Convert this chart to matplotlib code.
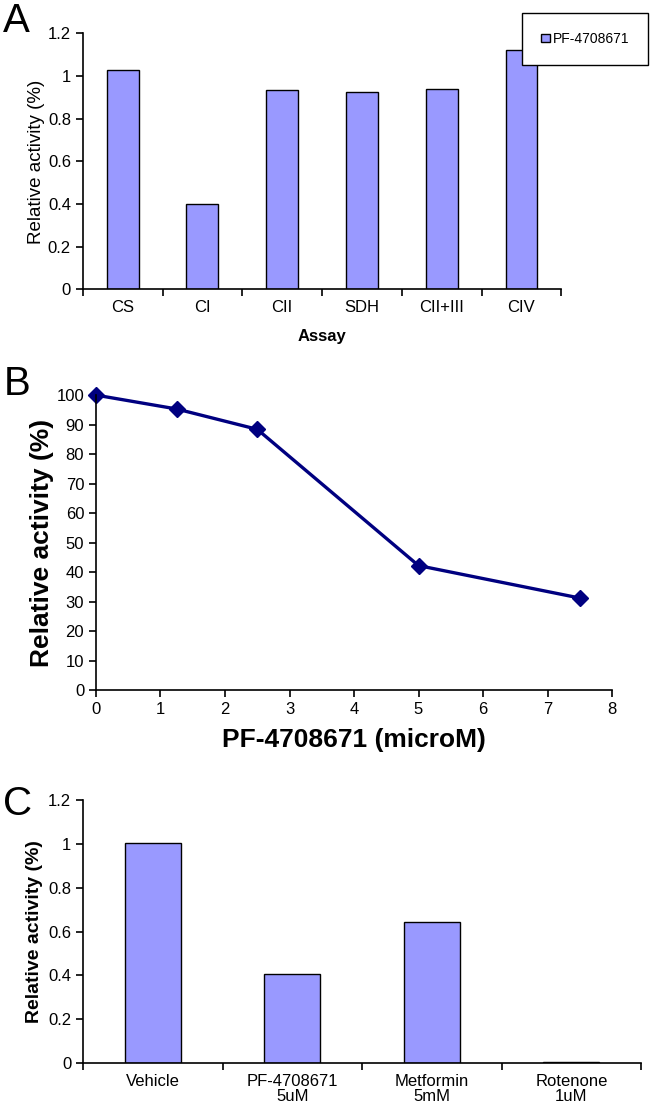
import matplotlib
matplotlib.use('Agg')
import matplotlib.pyplot as plt
from matplotlib import font_manager

# data
assays = ['CS', 'CI', 'CII', 'SDH', 'CII+III', 'CIV']
assay_vals = [1.03, 0.40, 0.935, 0.925, 0.94, 1.12]

dose = [0, 1.25, 2.5, 5, 7.5]
dose_act = [100, 95.3, 88.4, 42.2, 31.2]

treatments = ['Vehicle', 'PF-4708671\n5uM', 'Metformin\n5mM', 'Rotenone\n1uM']
treat_vals = [1.005, 0.405, 0.645, 0.005]

names = {f.name for f in font_manager.fontManager.ttflist}
narrow = 'Liberation Sans Narrow' if 'Liberation Sans Narrow' in names else 'Liberation Sans'
plt.rcParams['font.family'] = [narrow, 'DejaVu Sans']

bar_col = '#9999FF'
line_col = '#000080'

fig = plt.figure(figsize=(6.62, 11.13), dpi=100)


def style(ax):
    for s in ['top', 'right']:
        ax.spines[s].set_visible(False)
    ax.spines['left'].set_linewidth(1.2)
    ax.spines['bottom'].set_linewidth(1.2)
    ax.tick_params(direction='out', length=5, width=1.2)


# panel A
axA = fig.add_axes([0.125, 0.740, 0.723, 0.230])
xa = range(len(assays))
axA.bar(xa, assay_vals, width=0.4, color=bar_col, edgecolor='black', linewidth=1,
        label='PF-4708671')
axA.set_xlim(-0.5, len(assays) - 0.5)
axA.set_ylim(0, 1.2)
axA.set_yticks([0, 0.2, 0.4, 0.6, 0.8, 1.0, 1.2])
axA.set_yticklabels(['0', '0.2', '0.4', '0.6', '0.8', '1', '1.2'], fontsize=12)
axA.set_xticks([i - 0.5 for i in range(len(assays) + 1)], minor=False)
axA.set_xticklabels([])
axA.set_xticks(list(xa), minor=True)
axA.set_xticklabels(assays, minor=True, fontsize=12)
axA.tick_params(axis='x', which='minor', length=0, pad=8)
style(axA)
axA.set_ylabel('Relative activity (%)', fontsize=13.5, labelpad=2)
axA.set_xlabel('Assay', fontsize=12, fontweight='bold', labelpad=10)
fig.legend(loc='upper right', bbox_to_anchor=(0.99, 0.995), fontsize=10,
           fancybox=False, edgecolor='black', framealpha=1, handlelength=0.6,
           handleheight=0.6, handletextpad=0.2, borderpad=1.4)

# panel B
axB = fig.add_axes([0.145, 0.380, 0.7795, 0.265])
axB.plot(dose, dose_act, color=line_col, linewidth=2.4, marker='D', markersize=8,
         clip_on=False)
axB.set_xlim(0, 8)
axB.set_ylim(0, 100)
axB.set_xticks(range(9))
axB.set_yticks(range(0, 101, 10))
axB.tick_params(labelsize=12)
style(axB)
axB.set_ylabel('Relative activity (%)', fontsize=19, fontweight='bold', labelpad=2)
axB.set_xlabel('PF-4708671 (microM)', fontsize=19, fontweight='bold', labelpad=8)

# panel C
axC = fig.add_axes([0.1254, 0.0449, 0.843, 0.236])
xc = range(len(treatments))
axC.bar(xc, treat_vals, width=0.4, color=bar_col, edgecolor='black', linewidth=1)
axC.set_xlim(-0.5, len(treatments) - 0.5)
axC.set_ylim(0, 1.2)
axC.set_yticks([0, 0.2, 0.4, 0.6, 0.8, 1.0, 1.2])
axC.set_yticklabels(['0', '0.2', '0.4', '0.6', '0.8', '1', '1.2'], fontsize=12)
axC.set_xticks([i - 0.5 for i in range(len(treatments) + 1)])
axC.set_xticklabels([])
axC.set_xticks(list(xc), minor=True)
axC.set_xticklabels(treatments, minor=True, fontsize=12, linespacing=1.0)
axC.tick_params(axis='x', which='minor', length=0, pad=8)
style(axC)
axC.set_ylabel('Relative activity (%)', fontsize=14, fontweight='bold', labelpad=4)

# panel letters
for letter, y in [('A', 0.998), ('B', 0.672), ('C', 0.295)]:
    fig.text(0.005, y, letter, fontsize=29, va='top', ha='left', family='Liberation Sans')

fig.savefig('out.png', dpi=100)
